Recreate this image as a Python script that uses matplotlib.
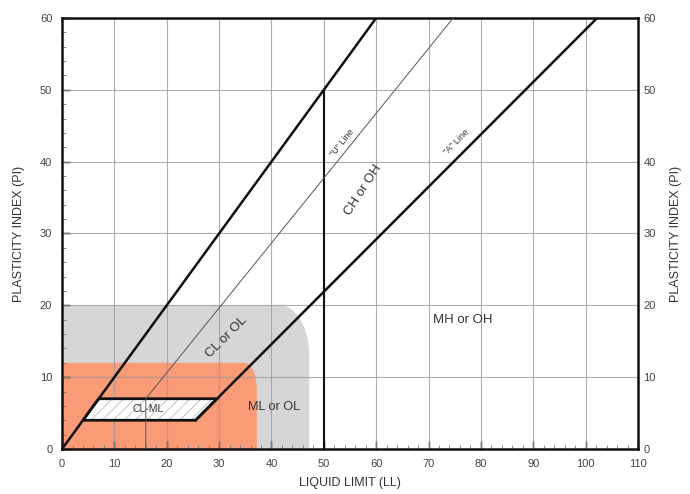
import numpy as np
import matplotlib.pyplot as plt
from matplotlib.path import Path
from matplotlib.patches import PathPatch, Polygon
from matplotlib.ticker import MultipleLocator

plt.rcParams['font.family'] = ['Liberation Sans', 'DejaVu Sans']

# ==========================================
# DATA: plasticity chart boundaries
# ==========================================
x_max, y_max = 110, 60
ll_ticks = [0, 10, 20, 30, 40, 50, 60, 70, 80, 90, 100, 110]
pi_ticks = [0, 10, 20, 30, 40, 50, 60]

# upper limit line PI = LL
upper_ll = [0, 60]
upper_pi = [0, 60]

# "A" line: PI = 0.73 (LL - 20), from the CL-ML band up to PI 60
a_ll = [25.5, 102.2]
a_pi = [4, 60]

# "U" line: vertical at LL 16 to PI 7, then PI = 0.9 (LL - 8)
u_ll = [16, 16, 74.7]
u_pi = [0, 7, 60]

# LL = 50 divider
div_ll = [50, 50]
div_pi = [0, 50]

# CL-ML band corners
clml_ll = [4, 7, 29.6, 25.5]
clml_pi = [4, 7, 7, 4]

# shaded zones: (LL extent, PI extent, corner radius LL, corner radius PI)
grey_zone = (47.2, 20, 5.6, 7.0)
orange_zone = (37.2, 12, 2.3, 3.8)

# zone labels: (text, LL, PI, rotation, size)
labels = [
    ("CL or OL", 31.5, 15.5, 45, 9.5),
    ("CH or OH", 57.5, 36.0, 57, 9.5),
    ("MH or OH", 76.5, 18.0, 0, 9.5),
    ("ML or OL", 40.5, 5.8, 0, 9.2),
    ("CL-ML", 16.5, 5.6, 0, 7.5),
    ('"U" Line', 53.6, 42.6, 51, 6.5),
    ('"A" Line', 75.4, 42.8, 45, 6.5),
]


def rounded_zone(w, h, rx, ry):
    """Rectangle from origin with elliptical top-right corner"""
    t = np.linspace(0, np.pi / 2, 30)
    arc_x = (w - rx) + rx * np.cos(t)
    arc_y = (h - ry) + ry * np.sin(t)
    xs = [0, w] + list(arc_x) + [0, 0]
    ys = [0, 0] + list(arc_y) + [h, 0]
    return Path(np.column_stack([xs, ys]))


fig = plt.figure(figsize=(6.9, 4.94), dpi=100)
ax = fig.add_axes([0.0899, 0.0911, 0.8347, 0.8725])

# shaded zones
ax.add_patch(PathPatch(rounded_zone(*grey_zone), facecolor='#d6d6d6',
                       edgecolor='none', zorder=1))
ax.add_patch(PathPatch(rounded_zone(*orange_zone), facecolor='#f99b77',
                       edgecolor='none', zorder=1.5))

# grid over fills
for v in ll_ticks[1:-1]:
    ax.axvline(v, color='#9a9a9a', lw=0.8, alpha=0.8, zorder=2)
for v in pi_ticks[1:-1]:
    ax.axhline(v, color='#9a9a9a', lw=0.8, alpha=0.8, zorder=2)

# CL-ML hatched band: light hatch first, then the black outline
band = np.column_stack([clml_ll, clml_pi])
plt.rcParams['hatch.linewidth'] = 0.7
ax.add_patch(Polygon(band, closed=True, facecolor='white',
                     edgecolor='#c4c4c4', lw=0, hatch='///', zorder=3))
ax.add_patch(Polygon(band, closed=True, facecolor='none',
                     edgecolor='#111111', lw=2, zorder=3.5))

# boundary lines
ax.plot(upper_ll, upper_pi, color='#111111', lw=1.8, zorder=4)
ax.plot(a_ll, a_pi, color='#111111', lw=1.8, zorder=4)
ax.plot(div_ll, div_pi, color='#111111', lw=1.5, zorder=4)
ax.plot(u_ll, u_pi, color='#555555', lw=0.7, zorder=4)

for txt, x, y, rot, size in labels:
    ax.text(x, y, txt, rotation=rot, fontsize=size, color='#333333',
            ha='center', va='center', zorder=5)

ax.set_xlim(0, x_max)
ax.set_ylim(0, y_max)
ax.set_xticks(ll_ticks)
ax.set_yticks(pi_ticks)
ax.xaxis.set_minor_locator(MultipleLocator(2))
ax.yaxis.set_minor_locator(MultipleLocator(2))
ax.tick_params(which='major', direction='in', length=6, width=1,
               labelsize=8, labelcolor='#444444', top=False, right=True,
               pad=7)
ax.tick_params(which='minor', direction='in', length=3, width=0.6,
               top=False, right=True, color='#777777')
for spine in ax.spines.values():
    spine.set_linewidth(1.8)
    spine.set_color('#111111')

ax.set_xlabel("LIQUID LIMIT (LL)", fontsize=9, color='#333333', labelpad=6)
ax.set_ylabel("PLASTICITY INDEX (PI)", fontsize=9, color='#333333', labelpad=11)

# right-hand axis labels
ax_r = ax.twinx()
ax_r.set_ylim(0, y_max)
ax_r.set_yticks(pi_ticks)
ax_r.tick_params(direction='in', length=0, labelsize=8, labelcolor='#444444',
                 pad=4)
ax_r.set_ylabel("PLASTICITY INDEX (PI)", fontsize=9, color='#333333',
                rotation=90, labelpad=10)
for spine in ax_r.spines.values():
    spine.set_visible(False)

fig.savefig("out.png", dpi=100, facecolor='white')
